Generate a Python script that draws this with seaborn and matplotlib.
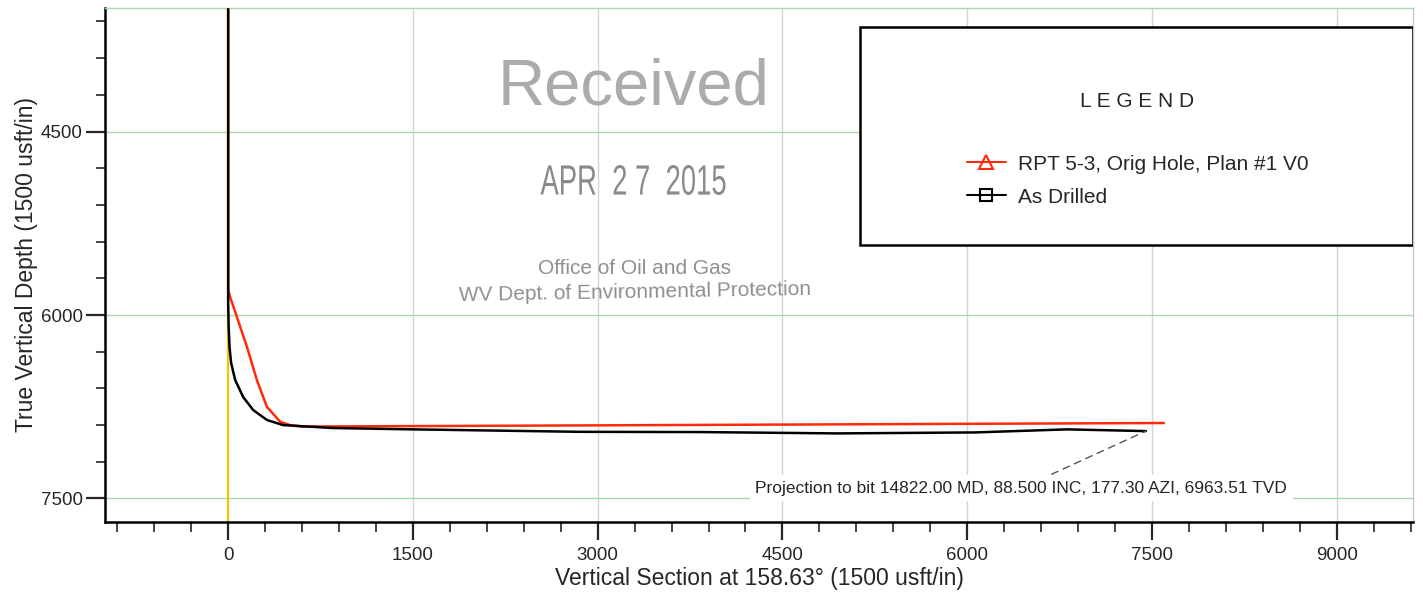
import matplotlib
matplotlib.use("Agg")
import matplotlib.pyplot as plt
from matplotlib.lines import Line2D
from matplotlib.patches import Rectangle, PathPatch
from matplotlib.textpath import TextPath
from matplotlib.font_manager import FontProperties
from matplotlib.transforms import Affine2D, IdentityTransform
from matplotlib.ticker import MultipleLocator
import seaborn as sns

# ----------------------------------------
# Data
# ----------------------------------------
# plan: RPT 5-3, Orig Hole, Plan #1 V0
plan_vs = [0, 0, 16, 152, 233, 314, 422, 503, 600, 7597]
plan_tvd = [3500, 5795, 5853, 6259, 6532, 6750, 6873, 6900, 6912, 6883]

# as drilled survey
drilled_vs = [0, 0, 4, 11, 24, 57, 122, 203, 316, 446, 851, 1500, 2854, 3827, 4946, 6065, 6811, 7451]
drilled_tvd = [3500, 5900, 6100, 6262, 6393, 6532, 6671, 6777, 6859, 6900, 6924, 6935, 6955, 6957, 6968, 6960, 6935, 6949]

legend_labels = ["RPT 5-3, Orig Hole, Plan #1 V0", "As Drilled"]
projection_note = "Projection to bit 14822.00 MD, 88.500 INC, 177.30 AZI, 6963.51 TVD"
stamp_date = "APR  2 7  2015"

red = "#ff2a0a"
yellow = "#f5c400"

sns.set_style("white")
plt.rcParams["font.family"] = ["Liberation Sans", "DejaVu Sans"]

fig = plt.figure(figsize=(14.23, 5.93), dpi=100)
ax = fig.add_axes([0.0738, 0.120, 0.9192, 0.8665])

# zero vertical section line
ax.axvline(0, color=yellow, lw=1.6, zorder=2)

sns.lineplot(x=plan_vs, y=plan_tvd, sort=False, estimator=None,
             color=red, lw=1.8, ax=ax, zorder=3)
sns.lineplot(x=drilled_vs, y=drilled_tvd, sort=False, estimator=None,
             color="black", lw=1.8, ax=ax, zorder=4)

ax.set_xlim(-1000, 9620)
ax.set_ylim(7691, 3490)

# ticks
ax.xaxis.set_major_locator(MultipleLocator(1500))
ax.xaxis.set_minor_locator(MultipleLocator(300))
ax.yaxis.set_major_locator(MultipleLocator(1500))
ax.yaxis.set_minor_locator(MultipleLocator(300))
ax.tick_params(axis="x", which="major", direction="out", length=13, width=1.6, pad=5, labelsize=13.5)
ax.tick_params(axis="x", which="minor", direction="out", length=7, width=1.2)
ax.tick_params(axis="y", which="major", direction="out", length=14, width=1.6, pad=2, labelsize=13.5)
ax.tick_params(axis="y", which="minor", direction="out", length=6.5, width=1.2)
ax.tick_params(bottom=True, left=True, which="both")

# grid
for v in [1500, 3000, 4500, 6000, 7500, 9000]:
    ax.axvline(v, color="#d2d6d2", lw=1, zorder=1)
for d in [4500, 6000, 7500]:
    ax.axhline(d, color="#a9d8a9", lw=1, zorder=1)

for side in ["left", "bottom"]:
    ax.spines[side].set_color("black")
    ax.spines[side].set_linewidth(1.8)
ax.spines["top"].set_color("#a9d8a9")
ax.spines["top"].set_linewidth(1)
ax.spines["right"].set_color("#c8c8c8")
ax.spines["right"].set_linewidth(1)

ax.set_xlabel("Vertical Section at 158.63\u00b0 (1500 usft/in)", fontsize=16.5)
ax.set_ylabel("True Vertical Depth (1500 usft/in)", fontsize=16.5)
ax.xaxis.set_label_coords(0.50, -0.088)
ax.yaxis.set_label_coords(-0.051, 0.50)

# legend box
ax.add_patch(Rectangle((0.577, 0.5386), 0.423, 0.425, transform=ax.transAxes,
                       facecolor="white", edgecolor="black", lw=1.8, zorder=6))
ax.text(0.789, 0.819, "L E G E N D", transform=ax.transAxes, ha="center", va="center",
        fontsize=15, zorder=7)
handles = [
    Line2D([], [], color=red, lw=1.5, marker="^", ms=10, mfc="none", mec=red, mew=1.5),
    Line2D([], [], color="black", lw=1.5, marker="s", ms=9, mfc="none", mec="black", mew=1.5),
]
leg = ax.legend(handles, legend_labels, loc="center left", bbox_to_anchor=(0.659, 0.664),
                frameon=False, fontsize=15, borderpad=0, borderaxespad=0,
                handlelength=1.85, handletextpad=0.6, labelspacing=0.68)
leg.set_zorder(8)

# projection note
ax.annotate(projection_note, xy=(drilled_vs[-1], drilled_tvd[-1]), xytext=(6440, 7415),
            ha="center", va="center", fontsize=12.5, zorder=7,
            bbox=dict(boxstyle="square,pad=0.3", fc="white", ec="none"),
            arrowprops=dict(arrowstyle="-", ls=(0, (5, 4)), color="#555555", lw=1,
                            shrinkA=2, shrinkB=0))

# received stamp
ax.text(0.404, 0.846, "Received", transform=ax.transAxes, ha="center", va="center",
        fontsize=47, color="#ababab", zorder=5)

# date stamp in a tall, narrow face: squeeze a text path horizontally
tp = TextPath((0, 0), stamp_date, size=1, prop=FontProperties(family="Liberation Sans"))
ext = tp.get_extents()
sx = 185 / ext.width
sy = 30 / ext.height
date_tf = (Affine2D().translate(-ext.x0 - ext.width / 2, -ext.y0 - ext.height / 2)
           .scale(sx, sy).translate(633, 593 - 180))
fig.patches.append(PathPatch(tp, transform=date_tf + IdentityTransform(),
                             facecolor="#8a8a8a", edgecolor="none", figure=fig))

ax.text(0.405, 0.494, "Office of Oil and Gas", transform=ax.transAxes, ha="center", va="center",
        fontsize=15, color="#8f8f8f", zorder=5)
ax.text(0.405, 0.447, "WV Dept. of Environmental Protection", transform=ax.transAxes,
        ha="center", va="center", fontsize=15, color="#8f8f8f", rotation=1, zorder=5)

plt.savefig("out.png", dpi=100)
